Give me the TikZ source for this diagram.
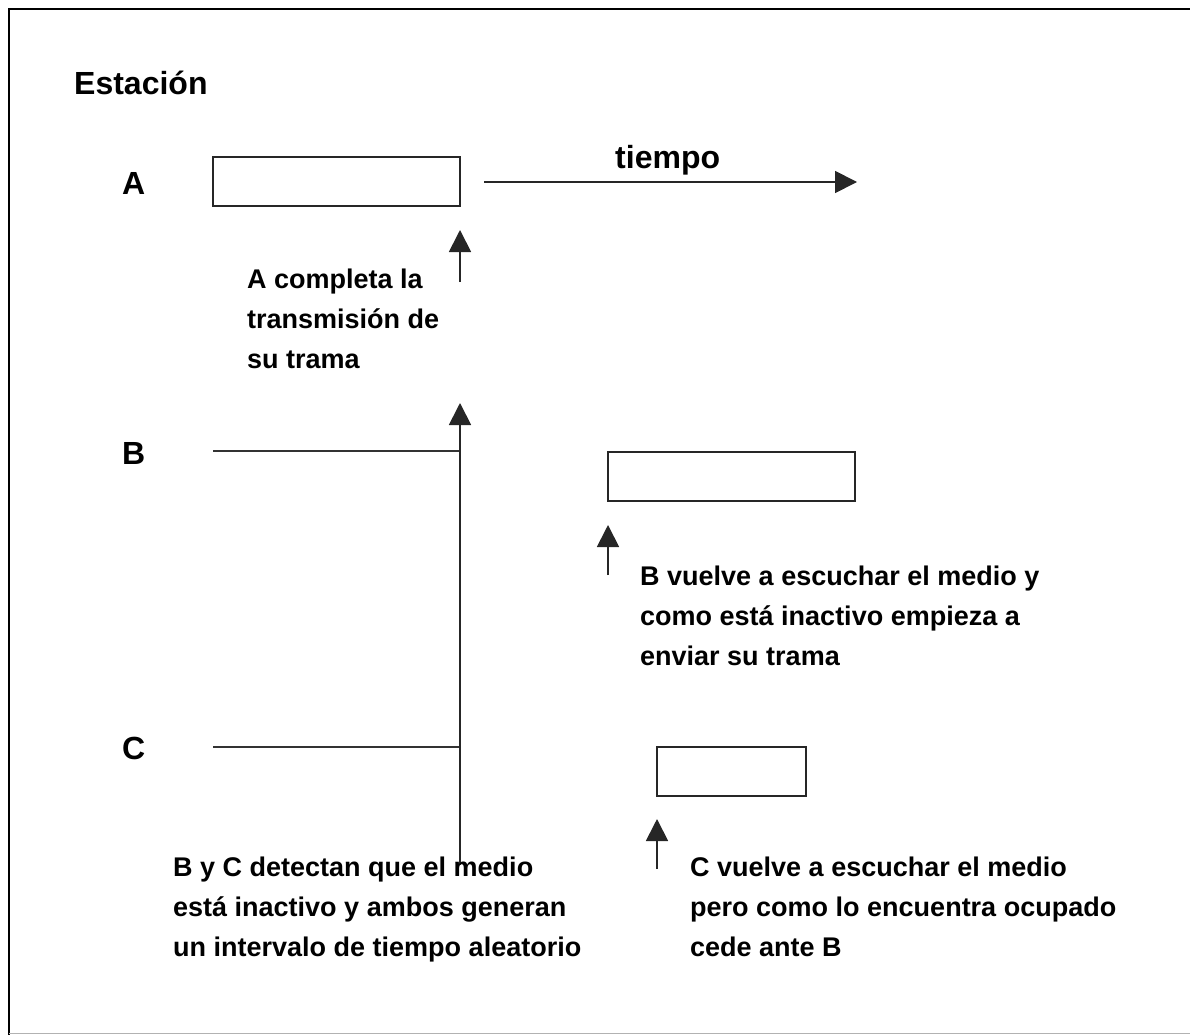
\documentclass[tikz,border=0pt]{standalone}
\usepackage{fontspec}
\setmainfont{Liberation Sans}
\usetikzlibrary{arrows.meta, positioning}

\begin{document}
\begin{tikzpicture}[x=1pt, y=-1pt,
    frame/.style={rectangle, draw=black!85, line width=1.8pt, minimum height=49pt, inner sep=0pt},
    station/.style={font=\bfseries\fontsize{32}{38}\selectfont, anchor=base west, inner sep=0pt},
    note/.style={font=\bfseries\fontsize{27}{40}\selectfont, anchor=base west, align=left, inner sep=0pt},
    line/.style={black!80, line width=1.8pt},
    arrow/.style={-{Triangle[length=22pt, width=22pt]}, black!85, line width=1.8pt},
]
\useasboundingbox (0,0) rectangle (1190,1035);
\draw[line width=2.5pt] (9,1035) -- (9,9) -- (1190,9);
\draw[black!30, line width=1pt] (9,1033) -- (1190,1033);

\node[station] (est) at (74,95) {Estación};
\node[station] (stA) at (122,194) {A};
\node[station] (stB) at (122,464) {B};
\node[station] (stC) at (122,759) {C};

\node[frame, minimum width=247pt] (trA) at (336.5,181.5) {};
\node[frame, minimum width=247pt] (trB) at (731.5,476.5) {};
\node[frame, minimum width=149pt] (trC) at (731.5,771.5) {};

% eje de tiempo
\coordinate (t0) at (484,182);
\coordinate (t1) at (857,182);
\draw[arrow] (t0) -- (t1);
\node[station] (tiempo) at (615,169) {tiempo};

% lineas de B y C
\coordinate (bIni) at (213,451);
\coordinate (cIni) at (213,747);
\coordinate (finBC) at (460,865);
\coordinate (topBC) at (460,403);
\draw[line] (bIni) -- (bIni -| finBC);
\draw[line] (cIni) -- (cIni -| finBC);
\draw[arrow] (finBC) -- (topBC);

\coordinate (aBot) at (460,282);
\coordinate (aTop) at (460,230);
\draw[arrow] (aBot) -- (aTop);
\coordinate (bBot) at (608,575);
\coordinate (bTop) at (608,525);
\draw[arrow] (bBot) -- (bTop);
\coordinate (cBot) at (657,869);
\coordinate (cTop) at (657,819);
\draw[arrow] (cBot) -- (cTop);

\node[note] (notaA) at (247,368) {A completa la\\transmisión de\\su trama};
\node[note] (notaB) at (640,665) {B vuelve a escuchar el medio y\\como está inactivo empieza a\\enviar su trama};
\node[note] (notaBC) at (173,956) {B y C detectan que el medio\\está inactivo y ambos generan\\un intervalo de tiempo aleatorio};
\node[note] (notaC) at (690,956) {C vuelve a escuchar el medio\\pero como lo encuentra ocupado\\cede ante B};
\end{tikzpicture}
\end{document}
